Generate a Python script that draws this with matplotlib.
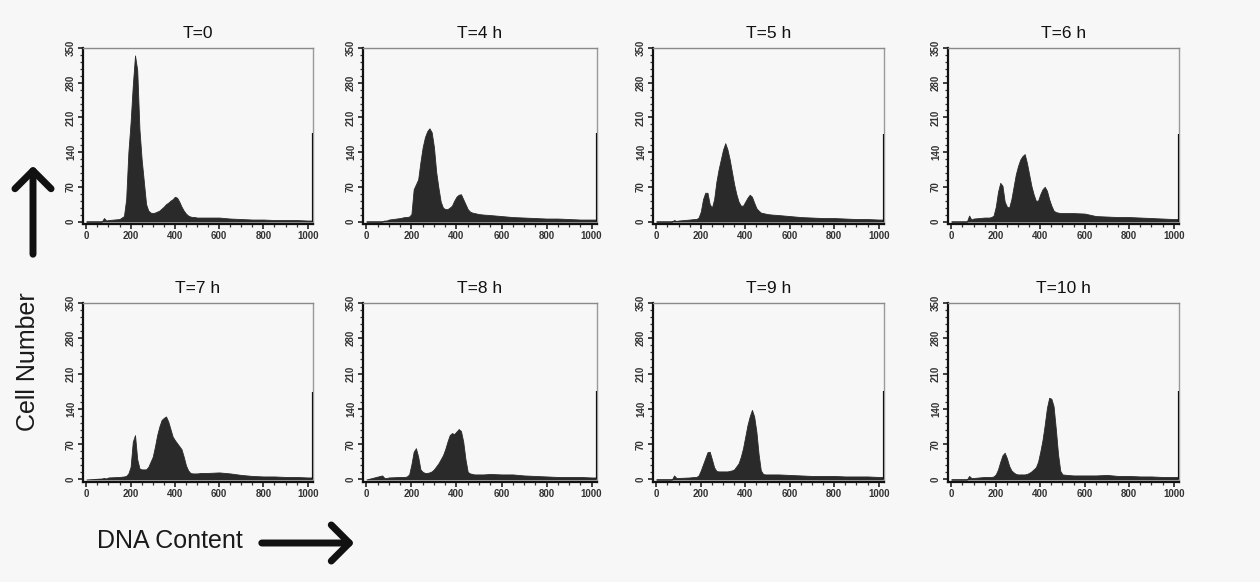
import matplotlib
matplotlib.use("Agg")
import matplotlib.pyplot as plt
from matplotlib.patches import FancyArrowPatch
from matplotlib.ticker import MultipleLocator

# DNA content channels shared by all panels
channels = [0, 70, 80, 90, 100, 150, 170, 180, 190, 200, 210, 220, 230, 240, 250,
            260, 270, 280, 290, 300, 310, 320, 330, 340, 350, 360, 370, 380, 390,
            400, 410, 420, 430, 440, 450, 460, 470, 480, 490, 500, 520, 550, 600,
            650, 700, 750, 800, 850, 900, 950, 1000, 1020]

titles = ["T=0", "T=4 h", "T=5 h", "T=6 h", "T=7 h", "T=8 h", "T=9 h", "T=10 h"]

counts_t0 = [0, 0, 7, 2, 3, 5, 11, 45, 140, 200, 275, 335, 305, 186, 125,
             80, 35, 22, 18, 17, 18, 20, 22, 26, 30, 35, 38, 42, 45,
             50, 48, 40, 30, 22, 16, 12, 10, 9, 9, 8, 8, 8, 8,
             6, 5, 4, 4, 3, 3, 3, 2, 2]
counts_t4 = [0, 0, 2, 2, 4, 7, 9, 9, 10, 15, 65, 75, 85, 120, 150,
             170, 182, 188, 180, 150, 100, 68, 40, 28, 25, 25, 28, 32, 42,
             50, 54, 55, 45, 35, 25, 20, 18, 17, 16, 15, 14, 13, 11,
             9, 8, 7, 6, 6, 5, 4, 4, 4]
counts_t5 = [0, 0, 3, 1, 2, 4, 5, 5, 8, 20, 45, 58, 58, 35, 28,
             45, 80, 105, 125, 145, 158, 145, 125, 100, 75, 55, 40, 32, 32,
             40, 48, 54, 50, 38, 27, 22, 18, 17, 16, 15, 14, 13, 11,
             9, 8, 7, 7, 6, 5, 5, 4, 4]
counts_t6 = [0, 0, 12, 4, 6, 8, 8, 9, 12, 30, 60, 78, 72, 40, 30,
             28, 45, 70, 95, 112, 125, 132, 136, 118, 95, 72, 55, 42, 42,
             55, 65, 70, 62, 45, 32, 22, 19, 18, 17, 17, 17, 17, 16,
             11, 10, 9, 9, 8, 7, 6, 5, 5]
counts_t7 = [0, 2, 3, 2, 4, 5, 6, 7, 12, 25, 75, 88, 40, 22, 20,
             20, 20, 25, 35, 45, 65, 88, 105, 118, 122, 125, 115, 100, 85,
             78, 72, 66, 60, 45, 28, 18, 13, 12, 12, 12, 13, 13, 14,
             12, 9, 7, 6, 6, 5, 5, 4, 4]
counts_t8 = [0, 8, 3, 3, 4, 5, 5, 6, 10, 30, 55, 62, 45, 20, 15,
             13, 13, 14, 16, 20, 26, 32, 40, 48, 60, 75, 88, 92, 90,
             95, 100, 96, 75, 40, 15, 12, 11, 10, 10, 10, 10, 11, 10,
             10, 8, 7, 6, 5, 5, 5, 4, 4]
counts_t9 = [0, 0, 8, 3, 3, 4, 5, 5, 8, 18, 30, 42, 54, 55, 40,
             24, 17, 16, 16, 16, 16, 16, 17, 18, 20, 26, 32, 45, 62,
             85, 108, 125, 138, 125, 95, 50, 18, 11, 10, 10, 10, 10, 9,
             8, 7, 7, 7, 6, 6, 6, 5, 5]
counts_t10 = [0, 0, 7, 3, 3, 5, 5, 5, 6, 10, 20, 35, 48, 53, 42,
              27, 18, 14, 11, 10, 10, 10, 10, 11, 13, 16, 20, 24, 35,
              55, 78, 108, 142, 162, 160, 145, 100, 50, 17, 10, 9, 8, 8,
              8, 9, 7, 7, 6, 6, 5, 5, 5]

series = [counts_t0, counts_t4, counts_t5, counts_t6,
          counts_t7, counts_t8, counts_t9, counts_t10]

# pile-up in the last channel, drawn on the right edge
edge_channel = 1023
edge_counts = [178, 178, 176, 177, 174, 176, 175, 175]

BG = "#f7f7f7"
FILL = "#2a2a2a"
W, H = 1260, 582

fig = plt.figure(figsize=(W / 100, H / 100), dpi=100, facecolor=BG)
plt.rcParams["font.family"] = ["Liberation Sans Narrow", "Liberation Sans", "DejaVu Sans"]

col_px = [(83, 313), (363, 597), (653, 884), (948, 1179)]
row_px = [(48, 224), (303, 482)]

for i, (title, counts) in enumerate(zip(titles, series)):
    l, r = col_px[i % 4]
    t, b = row_px[i // 4]
    ax = fig.add_axes([l / W, 1 - b / H, (r - l) / W, (b - t) / H])
    ax.set_facecolor(BG)
    ax.fill_between(channels, counts, 0, color=FILL, lw=0.6, edgecolor=FILL)
    ax.vlines(edge_channel, 0, edge_counts[i], color="#111111", lw=1.6, zorder=5)
    ax.set_xlim(-15, 1024)
    ax.set_ylim(-5, 350)
    ax.set_xticks([0, 200, 400, 600, 800, 1000])
    ax.set_yticks([0, 70, 140, 210, 280, 350])
    ax.xaxis.set_minor_locator(MultipleLocator(50))
    ax.yaxis.set_minor_locator(MultipleLocator(14))
    ax.tick_params(axis="both", which="major", direction="out", length=3.5,
                   width=1.2, labelsize=7, pad=1.5, color="#222222")
    ax.tick_params(axis="both", which="minor", direction="out", length=2,
                   width=0.9, color="#333333")
    for lab in ax.get_yticklabels():
        lab.set_rotation(90)
        lab.set_va("center")
    for lab in ax.get_xticklabels() + ax.get_yticklabels():
        lab.set_fontweight("bold")
        lab.set_color("#333333")
    ax.spines["left"].set_linewidth(1.6)
    ax.spines["bottom"].set_linewidth(1.6)
    ax.spines["left"].set_color("#111111")
    ax.spines["bottom"].set_color("#111111")
    ax.spines["top"].set_color("#8a8a8a")
    ax.spines["right"].set_color("#9a9a9a")
    ax.spines["top"].set_linewidth(1.0)
    ax.spines["right"].set_linewidth(1.0)
    ax.set_title(title, fontsize=12.5, pad=7, color="#111111")

fig.text(28 / W, 1 - 362 / H, "Cell Number", rotation=90, ha="center", va="center",
         fontsize=18, family=["Liberation Sans", "DejaVu Sans"], color="#1a1a1a")
fig.text(97 / W, 1 - 541 / H, "DNA Content", ha="left", va="center",
         fontsize=18, family=["Liberation Sans", "DejaVu Sans"], color="#1a1a1a")

up = FancyArrowPatch((33 / W, 1 - 257 / H), (33 / W, 1 - 163 / H),
                     transform=fig.transFigure, arrowstyle="->,head_length=5,head_width=5",
                     lw=5, color="#111111", mutation_scale=2.6)
right = FancyArrowPatch((259 / W, 1 - 543 / H), (357 / W, 1 - 543 / H),
                        transform=fig.transFigure, arrowstyle="->,head_length=5,head_width=5",
                        lw=5, color="#111111", mutation_scale=2.6)
fig.add_artist(up)
fig.add_artist(right)

fig.savefig("out.png", dpi=100, facecolor=BG)
